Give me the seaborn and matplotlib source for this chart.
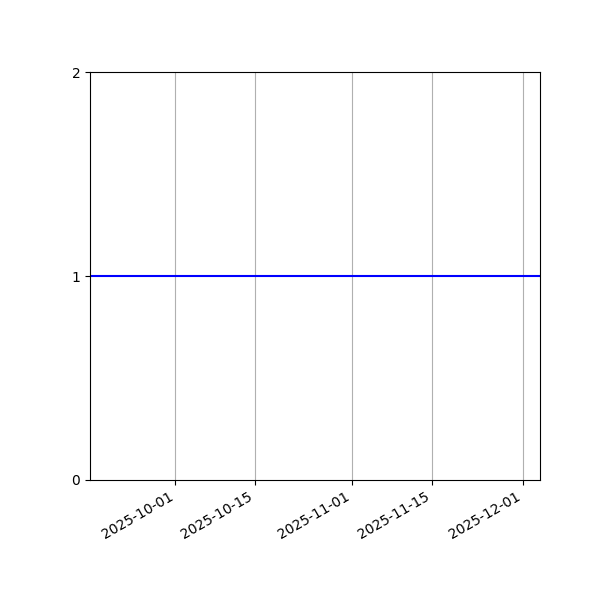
import matplotlib
matplotlib.use("Agg")
import matplotlib.pyplot as plt
import matplotlib.dates as mdates
import seaborn as sns
import pandas as pd
import numpy as np

start_date = "2025-09-16"
end_date = "2025-12-04"
dates = pd.date_range(start_date, end_date, freq="D")
values = [1] * len(dates)
y_ticks = [0, 1, 2]
x_ticks = ["2025-10-01", "2025-10-15", "2025-11-01", "2025-11-15", "2025-12-01"]

df = pd.DataFrame({"date": dates, "value": values})

fig, ax = plt.subplots(figsize=(6, 6), dpi=100)
sns.lineplot(data=df, x="date", y="value", ax=ax, color="blue", linewidth=1.5)
ax.set_xlim(pd.Timestamp(start_date), pd.Timestamp(end_date))
ax.set_ylim(0, 2)
ax.set_yticks(y_ticks)
ax.set_xticks([pd.Timestamp(t) for t in x_ticks])
ax.xaxis.set_major_formatter(mdates.DateFormatter("%Y-%m-%d"))
ax.grid(True, axis="x", color="#b0b0b0", linewidth=0.8)
ax.set_xlabel("")
ax.set_ylabel("")
fig.autofmt_xdate()
fig.subplots_adjust(left=0.15, right=0.9, top=0.88, bottom=0.2)
fig.savefig("out.png", dpi=100)
